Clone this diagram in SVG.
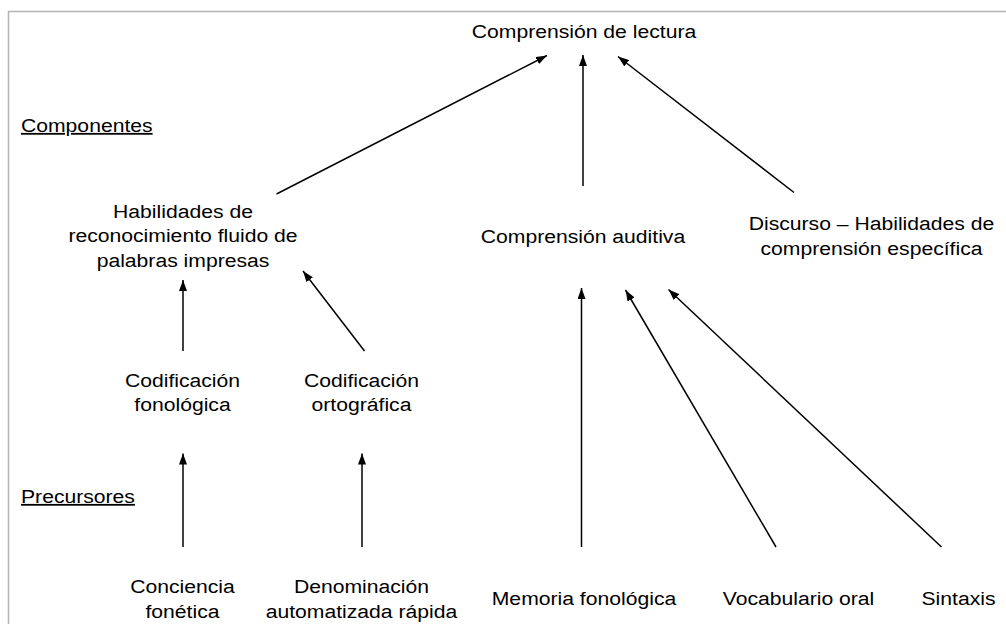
<svg xmlns="http://www.w3.org/2000/svg" width="1006" height="624" viewBox="0 0 1006 624">
<style>
.t{font-family:"Liberation Sans",Arial,Helvetica,sans-serif;font-size:18px;fill:#000;text-anchor:middle;transform-box:fill-box;transform-origin:center;transform:scaleX(1.175)}
.l{text-anchor:start;transform-origin:left center;text-decoration:underline}
.c{stroke:#000;stroke-width:1.5;fill:none;marker-end:url(#ah)}
</style>
<defs>
<marker id="ah" markerUnits="userSpaceOnUse" markerWidth="11" markerHeight="8" refX="11" refY="4" orient="auto">
<path d="M0,0 L11,4 L0,8 z" fill="#000"/>
</marker>
</defs>
<rect width="1006" height="624" fill="#fff"/>
<path d="M8.5,624 V11.5 H1006" fill="none" stroke="#b4b4b4" stroke-width="1.5"/>
<g id="labels">
<text class="t l" x="21" y="132">Componentes</text>
<text class="t l" x="21" y="503">Precursores</text>
</g>
<g id="n-comprension-lectura"><text class="t" x="584" y="38">Comprensión de lectura</text></g>
<g id="n-habilidades"><text class="t" x="183" y="218"><tspan x="183">Habilidades de</tspan><tspan x="183" dy="24.5">reconocimiento fluido de</tspan><tspan x="183" dy="24.5">palabras impresas</tspan></text></g>
<g id="n-comprension-auditiva"><text class="t" x="583" y="243">Comprensión auditiva</text></g>
<g id="n-discurso"><text class="t" x="871.5" y="230"><tspan x="871.5">Discurso – Habilidades de</tspan><tspan x="871.5" dy="25.5">comprensión específica</tspan></text></g>
<g id="n-cod-fonologica"><text class="t" x="182.5" y="387"><tspan x="182.5">Codificación</tspan><tspan x="182.5" dy="24.5">fonológica</tspan></text></g>
<g id="n-cod-ortografica"><text class="t" x="361.5" y="387"><tspan x="361.5">Codificación</tspan><tspan x="361.5" dy="24.5">ortográfica</tspan></text></g>
<g id="n-conciencia"><text class="t" x="182.5" y="593"><tspan x="182.5">Conciencia</tspan><tspan x="182.5" dy="25">fonética</tspan></text></g>
<g id="n-denominacion"><text class="t" x="361.5" y="593"><tspan x="361.5">Denominación</tspan><tspan x="361.5" dy="25">automatizada rápida</tspan></text></g>
<g id="n-memoria"><text class="t" x="584" y="605.5">Memoria fonológica</text></g>
<g id="n-vocabulario"><text class="t" x="798.5" y="605.5">Vocabulario oral</text></g>
<g id="n-sintaxis"><text class="t" x="958.5" y="605.5">Sintaxis</text></g>
<g id="connectors">
<line class="c" x1="276.5" y1="194" x2="547" y2="55.5"/>
<line class="c" x1="583" y1="186" x2="583" y2="55"/>
<line class="c" x1="794" y1="192.5" x2="618" y2="56.5"/>
<line class="c" x1="183" y1="351" x2="183" y2="280"/>
<line class="c" x1="364.5" y1="351" x2="303" y2="271"/>
<line class="c" x1="183" y1="547" x2="183" y2="453.5"/>
<line class="c" x1="362" y1="547" x2="362" y2="453.5"/>
<line class="c" x1="581.5" y1="547" x2="581.5" y2="288"/>
<line class="c" x1="776" y1="547" x2="625.5" y2="290"/>
<line class="c" x1="941.5" y1="547" x2="668.5" y2="289.5"/>
</g>
</svg>
